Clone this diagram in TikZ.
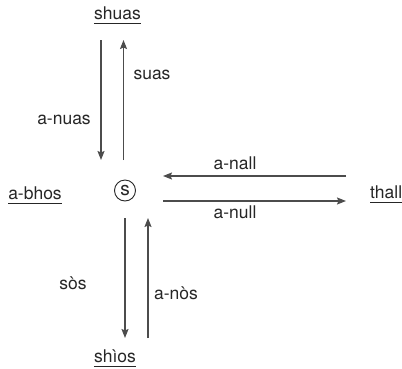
\documentclass[tikz,border=0pt]{standalone}
\usepackage{fontspec}
\setmainfont{TeX Gyre Heros}
\usetikzlibrary{arrows.meta}
\begin{document}
\begin{tikzpicture}[x=1pt,y=-1pt,
  every node/.style={inner sep=0pt,font=\fontsize{17.5}{20}\selectfont,text=black!85},
  conn/.style={line width=1.1pt,draw=black!70,-{Stealth[length=9pt,width=7pt,inset=1.5pt]}},
  uline/.style={line width=0.9pt,draw=black!85},
  ringline/.style={draw=black!85,line width=0.9pt}]
\useasboundingbox (0,0) rectangle (402,368);

% end points
\node (top) at (117.5,13) {shuas};
\node (left) at (35,193) {a-bhos};
\node[anchor=west] (right) at (370,192) {thall};
\node (bottom) at (115,356) {shìos};
\node[font=\fontsize{19}{20}\selectfont] (s) at (125,190.5) {s};
\draw[ringline] (s.center) circle[radius=10.5pt];

% underlines
\foreach \n in {top,left,right,bottom}
  \draw[uline] ([yshift=-4pt]\n.base west) -- ([yshift=-4pt]\n.base east);

% connector ends
\coordinate (t1) at (101,40);   \coordinate (t2) at (101,160);
\coordinate (t3) at (123.5,160); \coordinate (t4) at (123.5,40);
\coordinate (r1) at (346,176);  \coordinate (r2) at (163,176);
\coordinate (r3) at (163,201);  \coordinate (r4) at (346,201);
\coordinate (b1) at (125,218);  \coordinate (b2) at (125,338);
\coordinate (b3) at (148,338);  \coordinate (b4) at (148,218);

\draw[conn] (t1) -- (t2);
\draw[conn] (t3) -- (t4);
\draw[conn] (r1) -- (r2);
\draw[conn] (r3) -- (r4);
\draw[conn] (b1) -- (b2);
\draw[conn] (b3) -- (b4);

% labels
\node (l1) at (64,120) {a-nuas};
\node (l2) at (152,75) {suas};
\node (l3) at (235,163) {a-nall};
\node (l4) at (235,212) {a-null};
\node (l5) at (73,283) {sòs};
\node (l6) at (176,293) {a-nòs};
\end{tikzpicture}
\end{document}
